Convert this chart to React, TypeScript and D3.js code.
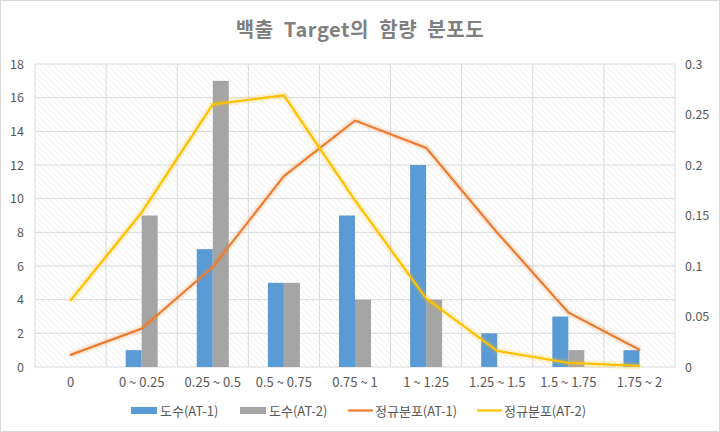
import React from "react";
import * as d3 from "d3";

const categories = ["0", "0 ~ 0.25", "0.25 ~ 0.5", "0.5 ~ 0.75", "0.75 ~ 1", "1 ~ 1.25", "1.25 ~ 1.5", "1.5 ~ 1.75", "1.75 ~ 2"];
const countAT1 = [0, 1, 7, 5, 9, 12, 2, 3, 1];
const countAT2 = [0, 9, 17, 5, 4, 4, 0, 1, 0];
const normAT1 = [0.012, 0.038, 0.099, 0.189, 0.244, 0.217, 0.133, 0.054, 0.017];
const normAT2 = [0.066, 0.153, 0.26, 0.269, 0.165, 0.068, 0.016, 0.004, 0.001];
const leftTicks = [0, 2, 4, 6, 8, 10, 12, 14, 16, 18];
const rightTicks = [0, 0.05, 0.1, 0.15, 0.2, 0.25, 0.3];
const legendItems = [
  { label: "도수(AT-1)", color: "#5B9BD5", kind: "bar", x: 131 },
  { label: "도수(AT-2)", color: "#A5A5A5", kind: "bar", x: 240 },
  { label: "정규분포(AT-1)", color: "#ED7D31", kind: "line", x: 348 },
  { label: "정규분포(AT-2)", color: "#FFC000", kind: "line", x: 477 },
];

const W = 720, H = 432;
const L = 35, R = 675, T = 64, B = 367;
const FONT = "'Noto Sans CJK KR', 'Open Sans', sans-serif";

export default function App() {
  const x = d3.scaleBand<string>().domain(categories).range([L, R]);
  const yL = d3.scaleLinear().domain([0, 18]).range([B, T]);
  const yR = d3.scaleLinear().domain([0, 0.3]).range([B, T]);
  const bw = 16;
  const line = d3.line<number>().x((_, i) => (x(categories[i]) as number) + x.bandwidth() / 2);
  const p1 = line.y((d) => yR(d))(normAT1) as string;
  const p2 = line.y((d) => yR(d))(normAT2) as string;

  return (
    <svg width={W} height={H} style={{ display: "block", position: "absolute", left: 0, top: 0 }}>
      <defs>
        <pattern id="hatch" width="6" height="6" patternUnits="userSpaceOnUse">
          <rect width="6" height="6" fill="#ffffff" />
          <path d="M-1,-1 L7,7 M-1,5 L1,7 M5,-1 L7,1" stroke="#ececec" strokeWidth="0.8" />
        </pattern>
      </defs>
      <rect x={0.5} y={0.5} width={W - 1} height={H - 1} fill="#fff" stroke="#d9d9d9" />
      <text x={360} y={37} textAnchor="middle" fontFamily={FONT} fontSize={20} fontWeight="bold" fill="#808080" letterSpacing={0.6} wordSpacing={5}>
        백출 Target의 함량 분포도
      </text>
      <rect x={L} y={T} width={R - L} height={B - T} fill="url(#hatch)" />
      {leftTicks.map((t) => (
        <line key={"h" + t} x1={L} x2={R} y1={yL(t)} y2={yL(t)} stroke="#d9d9d9" strokeWidth={1} />
      ))}
      {categories.map((c, i) => (
        <line key={"v" + i} x1={(x(c) as number)} x2={(x(c) as number)} y1={T} y2={B} stroke="#d9d9d9" strokeWidth={1} />
      ))}
      <line x1={R} x2={R} y1={T} y2={B} stroke="#d9d9d9" />
      {categories.map((c, i) => {
        const cx = (x(c) as number) + x.bandwidth() / 2;
        return (
          <g key={"b" + i}>
            {countAT1[i] > 0 && (
              <rect x={cx - bw} y={yL(countAT1[i])} width={bw} height={B - yL(countAT1[i])} fill="#5B9BD5" />
            )}
            {countAT2[i] > 0 && (
              <rect x={cx} y={yL(countAT2[i])} width={bw} height={B - yL(countAT2[i])} fill="#A5A5A5" />
            )}
          </g>
        );
      })}
      <path d={p1} fill="none" stroke="#ED7D31" strokeOpacity={0.15} strokeWidth={7} strokeLinejoin="round" />
      <path d={p1} fill="none" stroke="#ED7D31" strokeWidth={2.25} strokeLinejoin="round" strokeLinecap="round" />
      <path d={p2} fill="none" stroke="#FFC000" strokeOpacity={0.18} strokeWidth={7} strokeLinejoin="round" />
      <path d={p2} fill="none" stroke="#FFC000" strokeWidth={2.25} strokeLinejoin="round" strokeLinecap="round" />
      {leftTicks.map((t) => (
        <text key={"lt" + t} x={24} y={yL(t) + 4.5} textAnchor="end" fontFamily={FONT} fontSize={12.5} fill="#595959">
          {t}
        </text>
      ))}
      {rightTicks.map((t) => (
        <text key={"rt" + t} x={685} y={yR(t) + 4.5} textAnchor="start" fontFamily={FONT} fontSize={12.5} fill="#595959">
          {t}
        </text>
      ))}
      {categories.map((c) => (
        <text key={"xl" + c} x={(x(c) as number) + x.bandwidth() / 2} y={387} textAnchor="middle" fontFamily={FONT} fontSize={13} fill="#595959">
          {c}
        </text>
      ))}
      {legendItems.map((it) => (
        <g key={it.label}>
          {it.kind === "bar" ? (
            <rect x={it.x} y={407} width={26} height={7} fill={it.color} />
          ) : (
            <line x1={it.x} x2={it.x + 25} y1={410.5} y2={410.5} stroke={it.color} strokeWidth={2.25} />
          )}
          <text x={it.x + (it.kind === "bar" ? 29 : 27)} y={415.5} fontFamily={FONT} fontSize={13} fill="#595959">
            {it.label}
          </text>
        </g>
      ))}
    </svg>
  );
}
